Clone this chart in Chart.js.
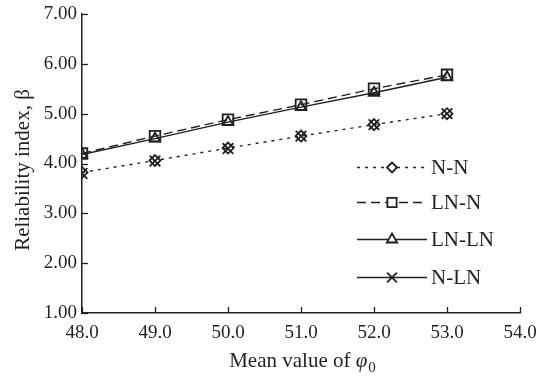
<!DOCTYPE html>
<html>
<head>
<meta charset="utf-8">
<script src="https://cdn.jsdelivr.net/npm/chart.js@4.4.1/dist/chart.umd.min.js"></script>
<style>
  html, body { margin: 0; padding: 0; background: #fff; }
  #wrap { width: 538px; height: 376px; position: relative; }
</style>
</head>
<body>
<div id="wrap"><canvas id="reliabilityChart"></canvas></div>
<script>
// mean value of phi_0
const meanPhi = [48, 49, 50, 51, 52, 53];
// reliability index beta per distribution pair
const betaNN = [3.82, 4.06, 4.31, 4.55, 4.78, 5.00];
const betaLNN = [4.20, 4.55, 4.88, 5.18, 5.50, 5.78];
const betaLNLN = [4.18, 4.50, 4.83, 5.13, 5.42, 5.73];
const betaNLN = [3.80, 4.05, 4.30, 4.55, 4.78, 5.00];
const seriesNames = ['N-N', 'LN-N', 'LN-LN', 'N-LN'];

const ink = '#231f20';
const serif = "'Liberation Serif', 'DejaVu Serif', serif";

function toPoints(ys) {
    return meanPhi.map((x, i) => ({ x: x, y: ys[i] }));
}

const styles = [
    { dash: [3, 5], point: 'rectRot', radius: 5.5, legendRadius: 5, line: true },
    { dash: [9, 5], point: 'rect', radius: 7.5, legendRadius: 6.5, line: true },
    { dash: [], point: 'triangle', radius: 6, legendRadius: 6, line: true },
    { dash: [], point: 'crossRot', radius: 7.5, legendRadius: 7, line: false }
];
const seriesData = [betaNN, betaLNN, betaLNLN, betaNLN];

const datasets = seriesData.map((ys, i) => ({
    label: seriesNames[i],
    data: toPoints(ys),
    borderColor: ink,
    backgroundColor: 'rgba(0,0,0,0)',
    borderWidth: 1.4,
    borderDash: styles[i].dash,
    showLine: styles[i].line,
    pointStyle: styles[i].point,
    pointRadius: styles[i].radius,
    pointBorderWidth: 1.8,
    pointBorderColor: ink,
    pointBackgroundColor: 'rgba(0,0,0,0)',
    tension: 0
}));

// inner tick marks, axis titles and the legend are drawn here
const decorations = {
    id: 'decorations',
    afterDraw(chart) {
        const ctx = chart.ctx;
        const xs = chart.scales.x, ys = chart.scales.y;
        const area = chart.chartArea;
        ctx.save();
        ctx.strokeStyle = ink;
        ctx.lineWidth = 1.3;
        ctx.setLineDash([]);
        xs.ticks.forEach(t => {
            const px = Math.round(xs.getPixelForValue(t.value)) + 0.5;
            ctx.beginPath();
            ctx.moveTo(px, area.bottom);
            ctx.lineTo(px, area.bottom - 6);
            ctx.stroke();
        });
        ys.ticks.forEach(t => {
            const py = Math.round(ys.getPixelForValue(t.value)) + 0.5;
            ctx.beginPath();
            ctx.moveTo(area.left, py);
            ctx.lineTo(area.left + 6, py);
            ctx.stroke();
        });

        // x title with italic phi and subscript 0
        ctx.fillStyle = ink;
        ctx.textBaseline = 'alphabetic';
        ctx.textAlign = 'left';
        const main = 'Mean value of ';
        ctx.font = '21px ' + serif;
        const w1 = ctx.measureText(main).width;
        ctx.font = 'italic 21px ' + serif;
        const w2 = ctx.measureText('φ').width;
        ctx.font = '15px ' + serif;
        const w3 = ctx.measureText('0').width;
        let sx = 302 - (w1 + w2 + w3) / 2;
        ctx.font = '21px ' + serif;
        ctx.fillText(main, sx, 367);
        ctx.font = 'italic 21px ' + serif;
        ctx.fillText('φ', sx + w1, 367);
        ctx.font = '15px ' + serif;
        ctx.fillText('0', sx + w1 + w2 + 1, 372);

        // y title
        ctx.save();
        ctx.translate(29, 170);
        ctx.rotate(-Math.PI / 2);
        ctx.textAlign = 'center';
        ctx.font = '21px ' + serif;
        ctx.fillText('Reliability index, β', 0, 0);
        ctx.restore();

        // legend
        const rows = [167, 202, 239, 277];
        datasets.forEach((ds, i) => {
            const y = rows[i] + 0.5;
            ctx.strokeStyle = ink;
            ctx.lineWidth = 1.6;
            ctx.setLineDash(styles[i].dash);
            ctx.beginPath();
            ctx.moveTo(357, y);
            ctx.lineTo(427, y);
            ctx.stroke();
            ctx.setLineDash([]);
            ctx.fillStyle = '#fff';
            ctx.lineWidth = 1.8;
            Chart.helpers.drawPoint(ctx, {
                pointStyle: styles[i].point,
                radius: styles[i].legendRadius,
                borderWidth: 1.8
            }, 392, y);
            ctx.fillStyle = ink;
            ctx.font = '21px ' + serif;
            ctx.textAlign = 'left';
            ctx.textBaseline = 'middle';
            ctx.fillText(seriesNames[i], 431, rows[i] + 1);
        });
        ctx.restore();
    }
};

new Chart(document.getElementById('reliabilityChart'), {
    type: 'scatter',
    data: { datasets: datasets },
    options: {
        responsive: true,
        maintainAspectRatio: false,
        animation: false,
        layout: { padding: { top: 14, right: 18, left: 0, bottom: 0 } },
        plugins: { legend: { display: false }, tooltip: { enabled: false } },
        scales: {
            x: {
                type: 'linear',
                min: 48, max: 54,
                ticks: {
                    stepSize: 1,
                    color: ink,
                    padding: 9,
                    font: { family: serif, size: 19 },
                    callback: v => v.toFixed(1),
                    maxRotation: 0
                },
                grid: { display: true, drawOnChartArea: false, drawTicks: false },
                border: { color: ink, width: 1.5 },
                afterFit: s => {
                    s.height = 63;
                    s.paddingLeft = 0;
                    s.paddingRight = 0;
                }
            },
            y: {
                min: 1, max: 7,
                ticks: {
                    stepSize: 1,
                    color: ink,
                    padding: 5,
                    font: { family: serif, size: 19 },
                    callback: v => v.toFixed(2)
                },
                grid: { display: true, drawOnChartArea: false, drawTicks: false },
                border: { color: ink, width: 1.5 },
                afterFit: s => {
                    s.width = 82;
                    s.paddingTop = 0;
                    s.paddingBottom = 0;
                }
            }
        }
    },
    plugins: [decorations]
});
</script>
</body>
</html>
